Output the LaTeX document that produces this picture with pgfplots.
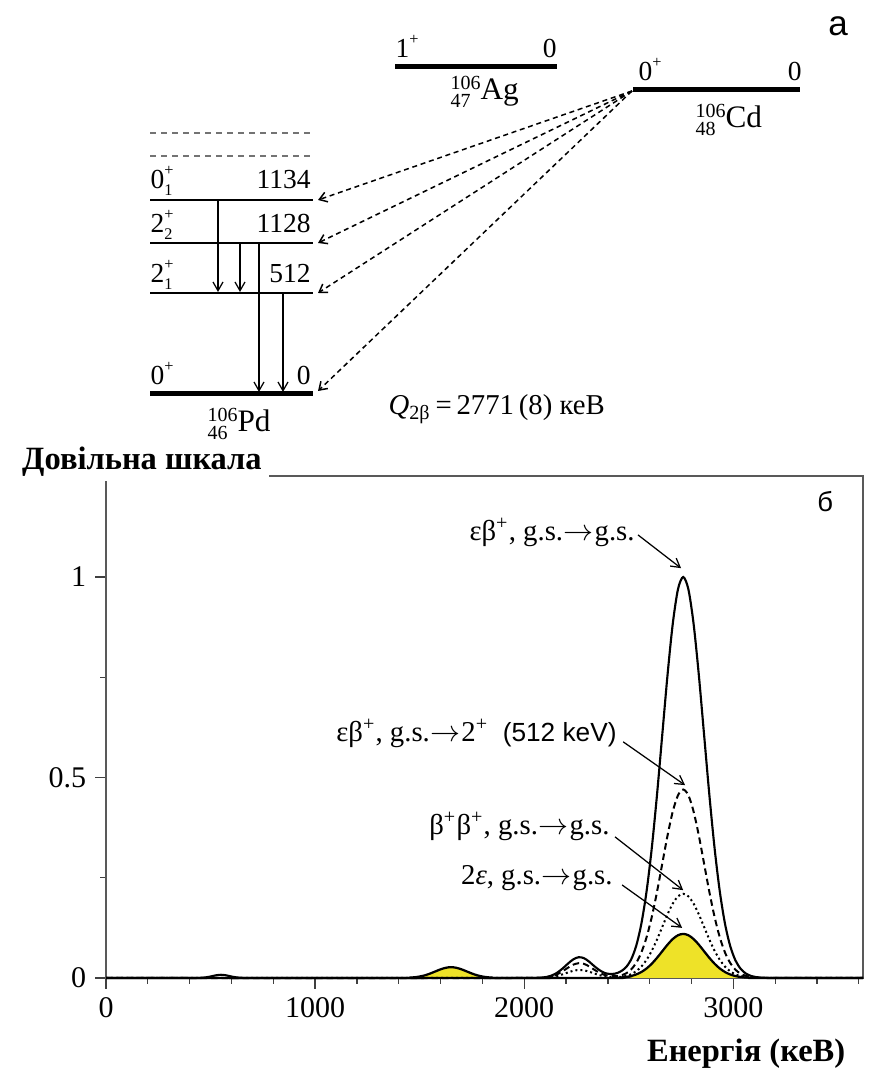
\documentclass[border=0pt]{standalone}
\usepackage{fontspec}
\setmainfont{Liberation Serif}
\setsansfont{Liberation Sans}
\usepackage{pgfplots}
\usepackage{pgfplotstable}
\pgfplotsset{compat=1.18}
\usetikzlibrary{arrows.meta}
\definecolor{fillyellow}{RGB}{238,226,40}

\newcommand{\lv}[3]{#1\makebox[0pt][l]{\raisebox{1.05ex}{\fontsize{6.5}{7}\selectfont #2}}\raisebox{-0.55ex}{\fontsize{6.5}{7}\selectfont #3}}
\newcommand{\nuc}[3]{$^{\mbox{\fontsize{8}{9}\selectfont #1}}_{\mbox{\fontsize{8}{9}\selectfont #2}}$\kern-0.5pt#3}
\newcommand{\ar}{\kern0.3pt$\rightarrow$\kern0.3pt}

\pgfplotstableread{
x y
0 0
420 0
450 0.0004
475 0.0015
500 0.0037
525 0.0066
550 0.0080
575 0.0066
600 0.0037
625 0.0015
650 0.0004
680 0
2035 0
2060 0.0004
2085 0.0011
2110 0.0030
2135 0.0070
2160 0.0141
2185 0.0244
2210 0.0363
2235 0.0467
2260 0.0518
2285 0.0496
2310 0.0409
2335 0.0295
2360 0.0195
2385 0.0125
2410 0.0100
2435 0.0110
2460 0.0160
2485 0.0260
2510 0.0450
2535 0.0796
2560 0.1353
2585 0.2163
2610 0.3247
2635 0.4578
2660 0.6065
2685 0.7548
2710 0.8825
2735 0.9692
2760 1.0000
2785 0.9692
2810 0.8825
2835 0.7548
2860 0.6065
2885 0.4578
2910 0.3247
2935 0.2163
2960 0.1353
2985 0.0796
3010 0.0439
3035 0.0228
3060 0.0111
3085 0.0051
3110 0.0022
3135 0.0009
3160 0.0003
3200 0
3620 0
}\solidtab

\pgfplotstableread{
x y
0 0
2035 0
2060 0.0003
2085 0.0008
2110 0.0022
2135 0.0050
2160 0.0100
2185 0.0174
2210 0.0259
2235 0.0333
2260 0.0369
2285 0.0353
2310 0.0291
2335 0.0207
2360 0.0129
2385 0.0075
2410 0.0050
2435 0.0045
2460 0.0062
2485 0.0110
2510 0.0206
2535 0.0374
2560 0.0636
2585 0.1017
2610 0.1526
2635 0.2152
2660 0.2851
2685 0.3548
2710 0.4148
2735 0.4555
2760 0.4700
2785 0.4555
2810 0.4148
2835 0.3548
2860 0.2851
2885 0.2152
2910 0.1526
2935 0.1017
2960 0.0636
2985 0.0374
3010 0.0206
3035 0.0107
3060 0.0052
3085 0.0024
3110 0.0010
3135 0.0004
3160 0.0001
3200 0
3620 0
}\dashtab

\pgfplotstableread{
x y
0 0
2035 0
2060 0.0001
2085 0.0004
2110 0.0012
2135 0.0027
2160 0.0054
2185 0.0094
2210 0.0140
2235 0.0180
2260 0.0199
2285 0.0191
2310 0.0157
2335 0.0112
2360 0.0070
2385 0.0040
2410 0.0026
2435 0.0022
2460 0.0028
2485 0.0050
2510 0.0092
2535 0.0167
2560 0.0284
2585 0.0454
2610 0.0682
2635 0.0961
2660 0.1274
2685 0.1585
2710 0.1853
2735 0.2035
2760 0.2100
2785 0.2035
2810 0.1853
2835 0.1585
2860 0.1274
2885 0.0961
2910 0.0682
2935 0.0454
2960 0.0284
2985 0.0167
3010 0.0092
3035 0.0048
3060 0.0023
3085 0.0011
3110 0.0005
3135 0.0002
3160 0.0001
3200 0
3620 0
}\dottab

\pgfplotstableread{
x y
0 0
1425 0
1450 0.0008
1475 0.0018
1500 0.0037
1525 0.0067
1550 0.0111
1575 0.0164
1600 0.0216
1625 0.0255
1650 0.0270
1675 0.0255
1700 0.0216
1725 0.0164
1750 0.0111
1775 0.0067
1800 0.0037
1825 0.0018
1850 0.0008
1875 0
2435 0
2460 0.0012
2485 0.0025
2510 0.0048
2535 0.0088
2560 0.0149
2585 0.0238
2610 0.0357
2635 0.0504
2660 0.0667
2685 0.0830
2710 0.0971
2735 0.1066
2760 0.1100
2785 0.1066
2810 0.0971
2835 0.0830
2860 0.0667
2885 0.0504
2910 0.0357
2935 0.0238
2960 0.0149
2985 0.0088
3010 0.0048
3035 0.0025
3060 0.0012
3085 0.0006
3110 0
3620 0
}\yeltab

\begin{document}
\begin{tikzpicture}
\useasboundingbox (0,0) rectangle (353.2pt,430pt);
% ---------------- level scheme (pixel coordinates) ----------------
\begin{axis}[name=sch, at={(0,0)}, anchor=south west,
  width=353.2pt, height=430pt, scale only axis,
  xmin=0, xmax=883, ymin=0, ymax=1075, y dir=reverse,
  hide axis, clip=false]
  % Pd levels
  \addplot[black, line width=2pt] coordinates {(150,394) (313,394)};
  \addplot[black, line width=0.8pt] coordinates {(150,293) (313,293)};
  \addplot[black, line width=0.8pt] coordinates {(150,243) (313,243)};
  \addplot[black, line width=0.8pt] coordinates {(150,200) (313,200)};
  \addplot[black!55, line width=0.7pt, dash pattern=on 2.4pt off 2pt] coordinates {(150,133) (310,133)};
  \addplot[black!55, line width=0.7pt, dash pattern=on 2.4pt off 2pt] coordinates {(150,156) (310,156)};
  % gamma transitions
  \addplot[black, line width=0.5pt, -{Straight Barb[length=3.5pt,width=4pt]}] coordinates {(218,200) (218,292)};
  \addplot[black, line width=0.5pt, -{Straight Barb[length=3.5pt,width=4pt]}] coordinates {(240,243) (240,292)};
  \addplot[black, line width=0.5pt, -{Straight Barb[length=3.5pt,width=4pt]}] coordinates {(259,243) (259,392)};
  \addplot[black, line width=0.5pt, -{Straight Barb[length=3.5pt,width=4pt]}] coordinates {(283,293) (283,392)};
  % Ag and Cd ground states
  \addplot[black, line width=2pt] coordinates {(395,67) (557,67)};
  \addplot[black, line width=2pt] coordinates {(633,90) (800,90)};
  % double-beta transitions
  \addplot[black, line width=0.6pt, dash pattern=on 2pt off 1.5pt, -{Straight Barb[length=3pt,width=4pt]}] coordinates {(632,91) (318,200)};
  \addplot[black, line width=0.6pt, dash pattern=on 2pt off 1.5pt, -{Straight Barb[length=3pt,width=4pt]}] coordinates {(632,91) (318,243)};
  \addplot[black, line width=0.6pt, dash pattern=on 2pt off 1.5pt, -{Straight Barb[length=3pt,width=4pt]}] coordinates {(632,91) (318,293)};
  \addplot[black, line width=0.6pt, dash pattern=on 2pt off 1.5pt, -{Straight Barb[length=3pt,width=4pt]}] coordinates {(632,91) (318,391)};
  % labels
  \begin{scope}[every node/.style={inner sep=0pt, font=\fontsize{11}{12}\selectfont}]
  \node[anchor=base west] at (axis cs:150,189) {\lv{0}{+}{1}};
  \node[anchor=base east] at (axis cs:311,189) {1134};
  \node[anchor=base west] at (axis cs:150,233) {\lv{2}{+}{2}};
  \node[anchor=base east] at (axis cs:311,233) {1128};
  \node[anchor=base west] at (axis cs:150,283) {\lv{2}{+}{1}};
  \node[anchor=base east] at (axis cs:311,283) {512};
  \node[anchor=base west] at (axis cs:150,385) {\lv{0}{+}{}};
  \node[anchor=base east] at (axis cs:311,385) {0};
  \node[anchor=base west] at (axis cs:395,58) {\lv{1}{+}{}};
  \node[anchor=base east] at (axis cs:557,58) {0};
  \node[anchor=base west] at (axis cs:638,81) {\lv{0}{+}{}};
  \node[anchor=base east] at (axis cs:802,81) {0};
  \node[anchor=base west, font=\fontsize{12.5}{14}\selectfont] at (axis cs:450,100) {\nuc{106}{47}{Ag}};
  \node[anchor=base west, font=\fontsize{12.5}{14}\selectfont] at (axis cs:695,128) {\nuc{106}{48}{Cd}};
  \node[anchor=base west, font=\fontsize{12.5}{14}\selectfont] at (axis cs:207,432) {\nuc{106}{46}{Pd}};
  \node[anchor=base west, font=\fontsize{11.5}{13}\selectfont] at (axis cs:388,415) {\textit{Q}\textsubscript{2β}\,=\,2771\,(8) кеВ};
  \node[anchor=center, font=\sffamily\fontsize{14}{16}\selectfont] at (axis cs:838,26) {а};
  \end{scope}
\end{axis}
% ---------------- spectrum ----------------
\begin{axis}[at={(42.4pt,38.8pt)}, anchor=south west,
  width=302.8pt, height=200.8pt, scale only axis,
  xmin=0, xmax=3620, ymin=0, ymax=1.252,
  xtick={0,1000,2000,3000}, minor xtick={200,400,...,3600},
  ytick={0,0.5,1}, minor ytick={0.25,0.75},
  xtick pos=bottom, ytick pos=left, tick align=outside,
  major tick length=4.4pt, minor tick length=2.4pt,
  axis line style={black!65, line width=0.6pt},
  tick style={black!75, line width=0.5pt},
  ticklabel style={font=\fontsize{12}{14}\selectfont},
  /pgf/number format/assume math mode=true,
  /pgf/number format/1000 sep={},
  scaled ticks=false, clip=false]
  \addplot[draw=none, fill=fillyellow, smooth] table {\yeltab} \closedcycle;
  \addplot[black, line width=0.9pt, smooth] table {\yeltab};
  \addplot[black, line width=0.8pt, smooth, dash pattern=on 0.8pt off 1.2pt] table {\dottab};
  \addplot[black, line width=0.8pt, smooth, dash pattern=on 2.6pt off 1.6pt] table {\dashtab};
  \addplot[black, line width=0.85pt, smooth] table {\solidtab};
  \begin{scope}[every node/.style={inner sep=0pt, font=\fontsize{11.5}{13}\selectfont}]
  \node[anchor=base east] at (axis cs:2530,1.092) {εβ\textsuperscript{+}, g.s.\ar g.s.};
  \draw[-{Straight Barb[length=3.5pt,width=4pt]}, line width=0.5pt] (axis cs:2544,1.105) -- (axis cs:2750,1.022);
  \node[anchor=base east] at (axis cs:2444,0.589) {εβ\textsuperscript{+}, g.s.\ar 2\textsuperscript{+}\ \ {\sffamily\fontsize{10.5}{12}\selectfont(512 keV)}};
  \draw[-{Straight Barb[length=3.5pt,width=4pt]}, line width=0.5pt] (axis cs:2473,0.589) -- (axis cs:2769,0.481);
  \node[anchor=base east] at (axis cs:2410,0.357) {β\textsuperscript{+}β\textsuperscript{+}, g.s.\ar g.s.};
  \draw[-{Straight Barb[length=3.5pt,width=4pt]}, line width=0.5pt] (axis cs:2434,0.352) -- (axis cs:2760,0.219);
  \node[anchor=base east] at (axis cs:2425,0.232) {2\textit{ε}, g.s.\ar g.s.};
  \draw[-{Straight Barb[length=3.5pt,width=4pt]}, line width=0.5pt] (axis cs:2468,0.232) -- (axis cs:2755,0.125);
  \node[anchor=center, font=\sffamily\fontsize{11}{13}\selectfont] at (axis cs:3439,1.187) {б};
  \node[anchor=base, fill=white, inner xsep=3pt, inner ysep=1.5pt, font=\bfseries\fontsize{13}{15}\selectfont] at (axis cs:172,1.267) {Довільна шкала};
  \node[anchor=base, font=\bfseries\fontsize{13}{15}\selectfont] at (axis cs:3061,-0.209) {Енергія (кеВ)};
  \end{scope}
\end{axis}
\end{tikzpicture}
\end{document}
